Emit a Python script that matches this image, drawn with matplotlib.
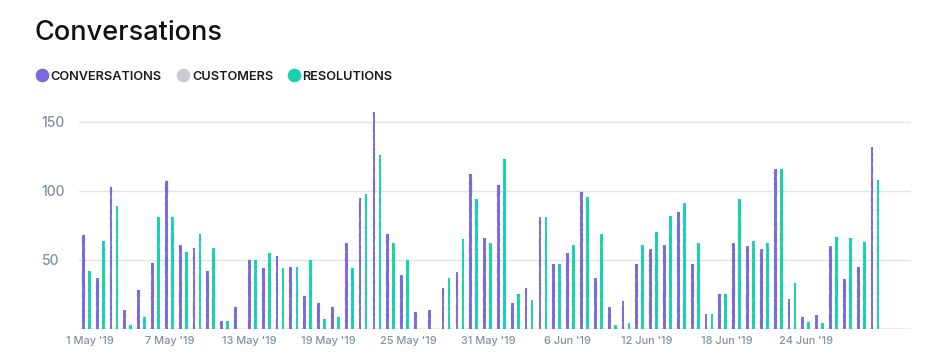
import numpy as np
import matplotlib.pyplot as plt
from matplotlib.lines import Line2D

# daily counts, one pair per day
conversations = [68, 37, 103, 14, 28, 48, 107, 61, 59, 42, 6, 16, 50, 44, 53,
                 45, 24, 19, 16, 62, 95, 157, 69, 39, 12, 14, 30, 41, 112, 66,
                 104, 19, 30, 81, 47, 55, 99, 37, 16, 20, 47, 58, 61, 85, 47,
                 11, 25, 62, 60, 58, 116, 22, 9, 10, 60, 36, 45, 132]
resolutions = [42, 64, 89, 3, 9, 81, 81, 56, 69, 59, 6, 0, 50, 55, 44,
               45, 50, 7, 9, 44, 98, 126, 62, 50, 0, 0, 37, 65, 94, 62,
               123, 25, 21, 81, 47, 61, 96, 69, 3, 4, 61, 70, 82, 91, 62,
               11, 25, 94, 64, 62, 116, 33, 5, 4, 67, 66, 63, 108]
tick_labels = ["1 May '19", "7 May '19", "13 May '19", "19 May '19", "25 May '19",
               "31 May '19", "6 Jun '19", "12 Jun '19", "18 Jun '19", "24 Jun '19"]
y_ticks = [50, 100, 150]

PURPLE = "#7b68dc"
GREY = "#c6cbd4"
TEAL = "#16d1ae"
LABEL = "#8390a5"

plt.rcParams['font.family'] = ['Inter', 'DejaVu Sans']

W, H = 942, 363
fig = plt.figure(figsize=(W / 100, H / 100), dpi=100)
ax = fig.add_axes([79 / W, (H - 329) / H, (911 - 79) / W, 228 / H])

x = np.arange(len(conversations))
off = 0.217
bw = 0.2
b1 = ax.bar(x - off, conversations, width=bw, color=PURPLE, zorder=3)
b2 = ax.bar(x + off, resolutions, width=bw, color=TEAL, zorder=3)
for p in list(b1) + list(b2):
    p.set_sketch_params(0.15, 10, 8)

ax.set_xlim(-0.53, 59.6)
ax.set_ylim(0, 165.2)

ax.set_yticks(y_ticks)
ax.set_yticklabels([str(v) for v in y_ticks])
ax.grid(axis='y', color="#e3e3e3", linewidth=1, zorder=0)
ax.axhline(0, color="#ececec", linewidth=2.2, zorder=2)

ax.set_xticks(0.27 + 5.75 * np.arange(len(tick_labels)))
ax.set_xticklabels(tick_labels)

for s in ax.spines.values():
    s.set_visible(False)
ax.tick_params(axis='both', length=0, colors=LABEL, labelsize=7.9)
ax.tick_params(axis='x', pad=5)
ax.tick_params(axis='y', pad=27)
for t in ax.get_yticklabels():
    t.set_horizontalalignment('left')
    t.set_fontsize(10)
for t in ax.get_xticklabels() + ax.get_yticklabels():
    t.set_fontweight('medium')

# title and legend
fig.text(35 / W, 1 - 40 / H, "Conversations", fontsize=19.5, fontweight='medium',
         color="#111111", va='baseline', ha='left')

legend = [("CONVERSATIONS", PURPLE, 42, 50), ("CUSTOMERS", GREY, 183, 192),
          ("RESOLUTIONS", TEAL, 294, 302.5)]
for name, col, dx, tx in legend:
    fig.add_artist(Line2D([dx / W], [1 - 75.3 / H], marker='o', markersize=8.8,
                          color=col, linestyle='none', transform=fig.transFigure))
    fig.text(tx / W, 1 - 80 / H, name, fontsize=9.2, fontweight='semibold',
             color="#1b1b24", va='baseline', ha='left')

plt.savefig('out.png', dpi=100)
